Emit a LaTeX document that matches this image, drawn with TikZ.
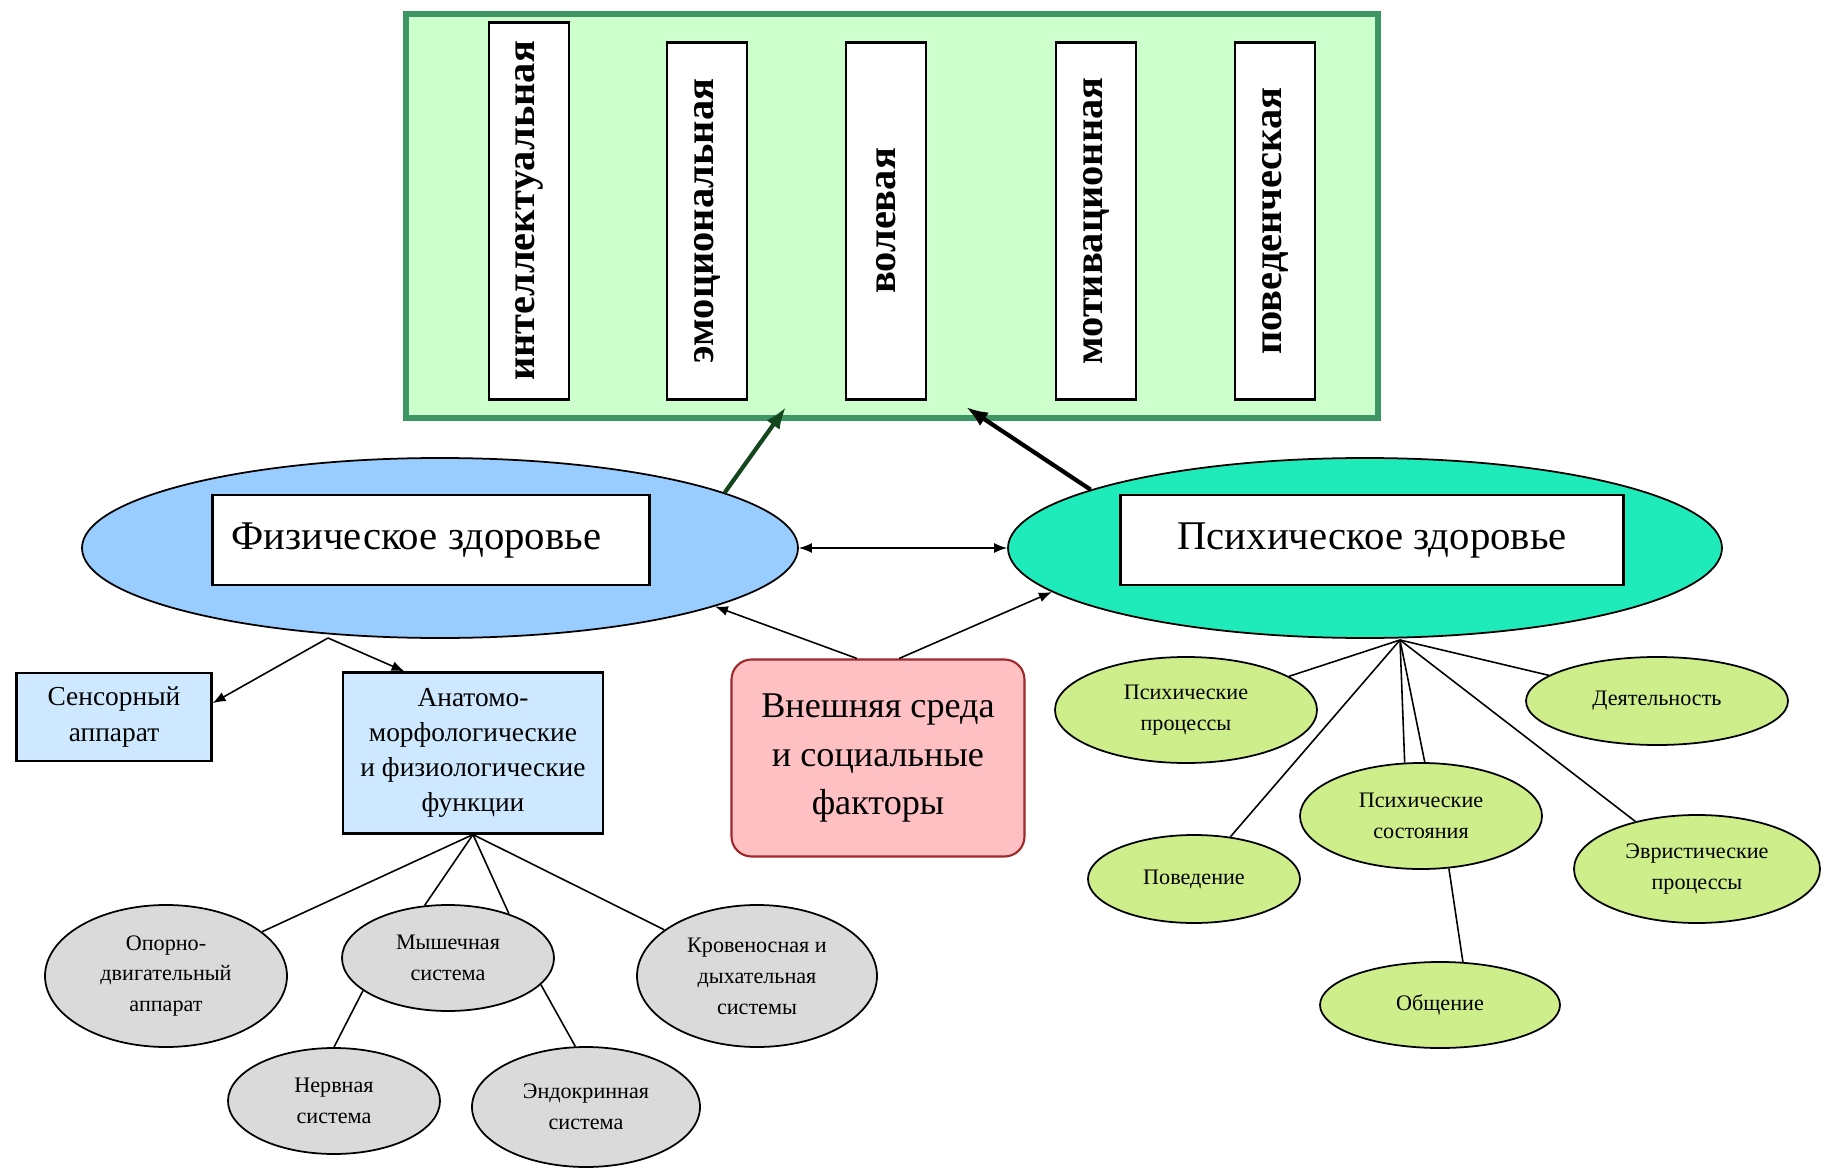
\documentclass[tikz,border=0pt]{standalone}
\usepackage{fontspec}
\setmainfont{Liberation Serif}
\usetikzlibrary{arrows.meta}
\usetikzlibrary{shapes.geometric}

\definecolor{framefill}{RGB}{204,255,204}
\definecolor{frameline}{RGB}{60,150,100}
\definecolor{physfill}{RGB}{153,204,255}
\definecolor{psyfill}{RGB}{30,235,185}
\definecolor{envfill}{RGB}{255,192,196}
\definecolor{envline}{RGB}{160,40,40}
\definecolor{boxfill}{RGB}{206,233,255}
\definecolor{grayfill}{RGB}{218,218,218}
\definecolor{leaffill}{RGB}{206,238,140}
\definecolor{arrowgreen}{RGB}{20,70,30}

\begin{document}
\begin{tikzpicture}[x=0.1mm, y=-0.1mm,
    vbox/.style={draw, fill=white, line width=0.6pt, rotate=90, inner sep=0pt, minimum height=8mm, minimum width=35.7mm, font=\fontsize{11.5}{14}\selectfont\bfseries},
    bigell/.style={ellipse, draw, line width=0.5pt, inner sep=0pt, minimum width=71.6mm, minimum height=18mm},
    lblbox/.style={draw, fill=white, line width=0.6pt, minimum height=9mm, font=\fontsize{11.6}{14}\selectfont},
    bluebox/.style={draw, fill=boxfill, line width=0.6pt, align=center, inner sep=0pt, font=\fontsize{7.8}{10}\selectfont},
    grayell/.style={ellipse, draw, fill=grayfill, line width=0.5pt, inner sep=0pt, align=center, font=\fontsize{6.3}{8.8}\selectfont},
    leafell/.style={ellipse, draw, fill=leaffill, line width=0.5pt, inner sep=0pt, align=center, font=\fontsize{6.3}{8.8}\selectfont},
    link/.style={line width=0.45pt},
    thinarr/.style={line width=0.45pt, -{Latex[length=1.3mm, width=1mm]}},
    thickarr/.style={line width=1.2pt, -{Latex[length=2.2mm, width=1.6mm]}}]

  \useasboundingbox (0,0) rectangle (1822,1171);

  \node[draw=frameline, fill=framefill, line width=1.7pt, minimum width=97.2mm, minimum height=40.4mm] (frame) at (892,216) {};
  \node[vbox, minimum width=37.7mm] (intel) at (529,211) {интеллектуальная};
  \node[vbox] (emot) at (707,221) {эмоциональная};
  \node[vbox] (vol) at (886,221) {волевая};
  \node[vbox] (motiv) at (1096,221) {мотивационная};
  \node[vbox] (behav) at (1275,221) {поведенческая};

  \node[bigell, fill=physfill] (phys) at (440,548) {};
  \node[lblbox, text width=39.9mm, inner xsep=1.9mm, align=flush left] (physlbl) at (431,540) {Физическое здоровье};
  \node[bigell, fill=psyfill, minimum width=71.4mm] (psy) at (1365,548) {};
  \node[lblbox, minimum width=50.3mm] (psylbl) at (1372,540) {Психическое здоровье};

  \node[draw=envline, fill=envfill, rounded corners=2mm, line width=0.6pt, minimum width=29.3mm, minimum height=19.7mm, align=center, font=\fontsize{10.3}{13.7}\selectfont] (env) at (878,758) {Внешняя среда\\и социальные\\факторы};

  \node[bluebox, minimum width=19.5mm, minimum height=8.8mm] (sens) at (114,717) {Сенсорный\\аппарат};
  \node[bluebox, minimum width=26mm, minimum height=16.1mm] (anat) at (473,753) {Анатомо-\\морфологические\\и физиологические\\функции};

  \node[grayell, minimum width=24.2mm, minimum height=14.2mm] (opora) at (166,976) {Опорно-\\двигательный\\аппарат};
  \node[grayell, minimum width=21.2mm, minimum height=10.6mm] (musc) at (448,958) {Мышечная\\система};
  \node[grayell, minimum width=24mm, minimum height=14.2mm] (blood) at (757,976) {Кровеносная и\\дыхательная\\системы};
  \node[grayell, minimum width=21.2mm, minimum height=10.6mm] (nerv) at (334,1101) {Нервная\\система};
  \node[grayell, minimum width=22.8mm, minimum height=12mm] (endo) at (586,1107) {Эндокринная\\система};

  \node[leafell, minimum width=26.2mm, minimum height=10.6mm] (proc) at (1186,710) {Психические\\процессы};
  \node[leafell, minimum width=26.2mm, minimum height=8.8mm] (act) at (1657,701) {Деятельность};
  \node[leafell, minimum width=21.2mm, minimum height=8.8mm] (beh) at (1194,879) {Поведение};
  \node[leafell, minimum width=24.2mm, minimum height=10.6mm] (state) at (1421,816) {Психические\\состояния};
  \node[leafell, minimum width=24.6mm, minimum height=10.8mm] (heur) at (1697,869) {Эвристические\\процессы};
  \node[leafell, minimum width=24mm, minimum height=8.6mm] (comm) at (1440,1005) {Общение};

  \coordinate (g1) at (786,407);
  \coordinate (g2) at (966,407);
  \coordinate (fork) at (328,638);
  \coordinate (hub) at (1400,640);

  \draw[thickarr, arrowgreen] (phys.11) -- (g1);
  \draw[thickarr] (psy.168) -- (g2);
  \draw[thinarr, {Latex[length=1.3mm, width=1mm]}-{Latex[length=1.3mm, width=1mm]}] (phys.east) -- (psy.west);
  \draw[thinarr] (env.102) -- (phys.-12);
  \draw[thinarr] (env.78) -- (psy.188);
  \draw[thinarr] (fork) -- (sens.8);
  \draw[thinarr] (fork) -- (anat.130);

  \draw[link] (anat.south) -- (opora);
  \draw[link] (anat.south) -- (musc.114);
  \draw[link] (anat.south) -- (musc.36);
  \draw[link] (anat.south) -- (blood);
  \draw[link] (musc.-159) -- (nerv.north);
  \draw[link] (musc.-16) -- (endo.100);

  \draw[link] (hub) -- (proc);
  \draw[link] (hub) -- (act);
  \draw[link] (hub) -- (beh);
  \draw[link] (hub) -- (state.107);
  \draw[link] (hub) -- (state.86);
  \draw[link] (hub) -- (heur);
  \draw[link] (state.-62) -- (comm.62);
\end{tikzpicture}
\end{document}
